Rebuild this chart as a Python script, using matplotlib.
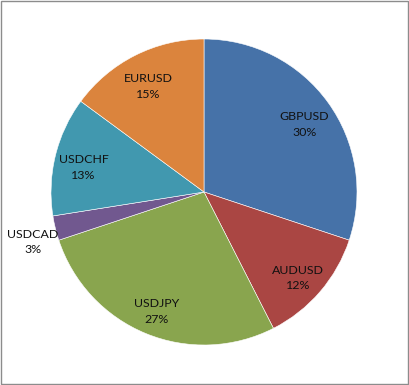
import matplotlib
matplotlib.use("Agg")
import numpy as np
import matplotlib.pyplot as plt
from matplotlib.patches import Rectangle

# Data (shares in percent)
pairs = ["GBPUSD", "AUDUSD", "USDJPY", "USDCAD", "USDCHF", "EURUSD"]
shares = [30.1, 12.4, 27.4, 2.6, 12.6, 14.9]
colors = ["#4672A8", "#AA4643", "#89A54E", "#71588F", "#4198AF", "#DB843D"]

plt.rcParams['font.family'] = ['Lato', 'DejaVu Sans']

fig = plt.figure(figsize=(4.09, 3.85), dpi=100)
fig.patch.set_facecolor("white")

# pie centre at (204, 192) px, radius 153 px
cx, cy, r = 204, 192, 153
W, H = 409, 385
ax = fig.add_axes([(cx - r) / W, (H - cy - r) / H, 2 * r / W, 2 * r / H])

labels = [f"{p}\n{round(s)}%" for p, s in zip(pairs, shares)]
wedges, texts = ax.pie(shares, labels=labels, colors=colors, startangle=90,
                       counterclock=False, labeldistance=0.81,
                       wedgeprops=dict(edgecolor="white", linewidth=0.4),
                       textprops=dict(fontsize=8.9, color="#111111",
                                      linespacing=1.5))
for t in texts:
    t.set_ha("center")
    t.set_va("center")
    x, y = t.get_position()
    t.set_position((x, y - 0.033))

# small slice label sits outside the pie
w = wedges[3]
mid = np.deg2rad((w.theta1 + w.theta2) / 2)
texts[3].set_position((1.15 * np.cos(mid), 1.15 * np.sin(mid) - 0.055))

ax.set_xlim(-1, 1)
ax.set_ylim(-1, 1)
ax.set_aspect("equal")
ax.axis("off")

# chart area border
fig.patches.append(Rectangle((0.5 / W, 1.5 / H), (W - 2) / W, (H - 2.5) / H,
                             transform=fig.transFigure, fill=False,
                             edgecolor="#8c8c8c", linewidth=1.0))

fig.savefig("out.png", dpi=100)
